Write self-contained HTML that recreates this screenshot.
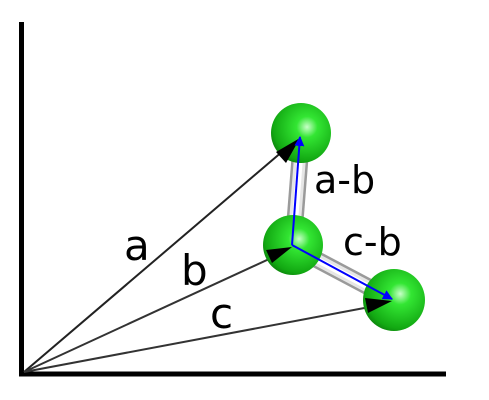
<!DOCTYPE html>
<html><head><meta charset="utf-8"><style>
html,body{margin:0;padding:0;background:#fff;width:489px;height:400px;overflow:hidden}
text{font-family:"DejaVu Sans","Liberation Sans",sans-serif;fill:#000}
</style></head><body>
<svg width="489" height="400" viewBox="0 0 489 400">
<defs>
<radialGradient id="g" cx="0.6" cy="0.4" r="0.7">
<stop offset="0" stop-color="#c8ffc8"/><stop offset="0.25" stop-color="#33e633"/><stop offset="0.8" stop-color="#12a812"/><stop offset="1" stop-color="#0a700a"/>
</radialGradient>
<marker id="ah" markerWidth="10" markerHeight="10" refX="9" refY="5" orient="auto" markerUnits="userSpaceOnUse"><path d="M0,0 L10,5 L0,10 z" fill="#0000ff"/></marker>
</defs>
<g>
<line x1="21.5" y1="22" x2="21.5" y2="376" stroke="#000" stroke-width="5"/>
<line x1="19" y1="374" x2="446" y2="374" stroke="#000" stroke-width="5"/>
</g>
<g>
<line x1="24" y1="372" x2="290" y2="145" stroke="#222" stroke-width="2"/>
<line x1="24" y1="372" x2="280" y2="254" stroke="#333" stroke-width="2"/>
<line x1="24" y1="372" x2="375" y2="306" stroke="#333" stroke-width="2"/>
</g>
<g>
<line x1="302" y1="132" x2="293" y2="247" stroke="#9a9a9a" stroke-width="17"/>
<line x1="302" y1="132" x2="293" y2="247" stroke="#e6e6e6" stroke-width="12"/>
<line x1="302" y1="132" x2="293" y2="247" stroke="#fff" stroke-width="6"/>
<line x1="293" y1="247" x2="393" y2="300" stroke="#9a9a9a" stroke-width="17"/>
<line x1="293" y1="247" x2="393" y2="300" stroke="#e6e6e6" stroke-width="12"/>
<line x1="293" y1="247" x2="393" y2="300" stroke="#fff" stroke-width="6"/>
</g>
<circle cx="301" cy="133" r="30" fill="url(#g)"/>
<circle cx="293" cy="245" r="30" fill="url(#g)"/>
<circle cx="394" cy="300" r="31" fill="url(#g)"/>
<g>
<path d="M300,138 L276,152 L286,163 z" fill="#000"/>
<path d="M292,247 L266,250 L272,263 z" fill="#000"/>
<path d="M392,301 L365,298 L368,313 z" fill="#000"/>
</g>
<line x1="292" y1="245" x2="300" y2="137" stroke="#0000ff" stroke-width="2" marker-end="url(#ah)"/>
<line x1="292" y1="245" x2="392" y2="299" stroke="#0000ff" stroke-width="2" marker-end="url(#ah)"/>
<text x="124" y="260" font-size="42">a</text>
<text x="181" y="285" font-size="42">b</text>
<text x="210" y="328" font-size="42">c</text>
<text x="314" y="193" font-size="38">a-b</text>
<text x="343" y="255" font-size="38">c-b</text>
</svg>
</body></html>
